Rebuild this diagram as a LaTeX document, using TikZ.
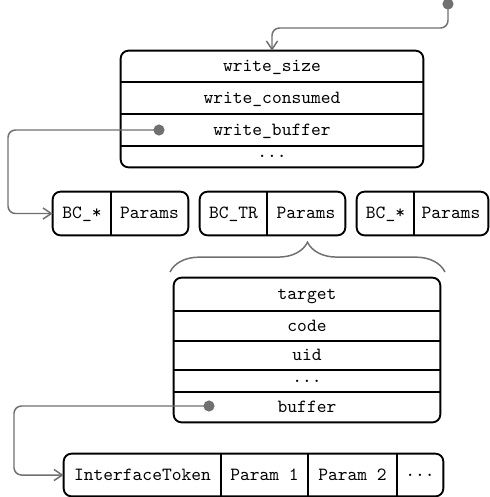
\documentclass[tikz,border=0pt]{standalone}
\usepackage{fontspec}
\usetikzlibrary{arrows.meta,decorations.pathreplacing}
\definecolor{conngray}{RGB}{112,112,112}
\def\pxu{0.5376pt}
\tikzset{
  cell/.style={inner sep=0pt, font=\ttfamily, text height=1.5ex, text depth=.25ex},
  dotcell/.style={inner sep=0pt, font=\ttfamily},
  cw/.style={minimum width={#1*\pxu}},
  ch/.style={minimum height={#1*\pxu}},
  box/.style={draw=black, line width=1pt, rounded corners=4.3pt},
  sep/.style={draw=black, line width=1pt},
  link/.style={draw=conngray, line width=.8pt, rounded corners=4pt, -{Straight Barb[length=4.5pt,width=6pt]}},
  brc/.style={draw=conngray, line width=.8pt, decorate, decoration={brace, amplitude=16pt}},
  knob/.style={fill=conngray}
}
\begin{document}
\begin{tikzpicture}[x=\pxu,y=-\pxu]
\useasboundingbox (0,0) rectangle (490,497);

% top struct
\node[cell,cw=302,ch=31] (ws) at (272,66.5) {write\_size};
\node[cell,cw=302,ch=32] (wc) at (272,98) {write\_consumed};
\node[cell,cw=302,ch=32] (wb) at (272,130) {write\_buffer};
\node[dotcell,cw=302,ch=21] (wd) at (272,156.5) {...};
\draw[box] (ws.north west) rectangle (wd.south east);
\draw[sep] (ws.south west) -- (ws.south east);
\draw[sep] (wc.south west) -- (wc.south east);
\draw[sep] (wb.south west) -- (wb.south east);

% bytecode row
\node[cell,cw=58,ch=43] (b1a) at (82,213.5) {BC\_*};
\node[cell,cw=77,ch=43] (b1b) at (149.5,213.5) {Params};
\node[cell,cw=67,ch=43] (b2a) at (233.5,213.5) {BC\_TR};
\node[cell,cw=78,ch=43] (b2b) at (306,213.5) {Params};
\node[cell,cw=57,ch=43] (b3a) at (385.5,213.5) {BC\_*};
\node[cell,cw=74,ch=43] (b3b) at (451,213.5) {Params};
\draw[box] (b1a.north west) rectangle (b1b.south east);
\draw[sep] (b1a.north east) -- (b1a.south east);
\draw[box] (b2a.north west) rectangle (b2b.south east);
\draw[sep] (b2a.north east) -- (b2a.south east);
\draw[box] (b3a.north west) rectangle (b3b.south east);
\draw[sep] (b3a.north east) -- (b3a.south east);

% lower struct
\node[cell,cw=266,ch=33] (tg) at (307,294.5) {target};
\node[cell,cw=266,ch=30] (cd) at (307,326) {code};
\node[cell,cw=266,ch=29] (ui) at (307,355.5) {uid};
\node[dotcell,cw=266,ch=22] (ld) at (307,381) {...};
\node[cell,cw=266,ch=30] (bf) at (307,407) {buffer};
\draw[box] (tg.north west) rectangle (bf.south east);
\draw[sep] (tg.south west) -- (tg.south east);
\draw[sep] (cd.south west) -- (cd.south east);
\draw[sep] (ui.south west) -- (ui.south east);
\draw[sep] (ld.south west) -- (ld.south east);

% bottom row
\node[cell,cw=157,ch=42] (it) at (142.5,475) {InterfaceToken};
\node[cell,cw=87,ch=42] (p1) at (264.5,475) {Param 1};
\node[cell,cw=89,ch=42] (p2) at (352.5,475) {Param 2};
\node[dotcell,cw=46,ch=42] (pd) at (420,475) {...};
\draw[box] (it.north west) rectangle (pd.south east);
\draw[sep] (it.north east) -- (it.south east);
\draw[sep] (p1.north east) -- (p1.south east);
\draw[sep] (p2.north east) -- (p2.south east);

% brace
\coordinate (brl) at (170,272);
\coordinate (brr) at (445,272);
\draw[brc] (brl) -- (brr);

% connectors
\coordinate (src) at (448,4);
\coordinate (wbdot) at (159,130);
\coordinate (bufdot) at (209,406);
\draw[link] (src) -- ++(0,24) -| (ws.north);
\draw[link] (wbdot) -- ++(-151,0) |- (b1a.west);
\draw[link] (bufdot) -- ++(-195,0) |- (it.west);
\fill[knob] (src) circle (3pt);
\fill[knob] (wbdot) circle (3pt);
\fill[knob] (bufdot) circle (3pt);
\end{tikzpicture}
\end{document}
